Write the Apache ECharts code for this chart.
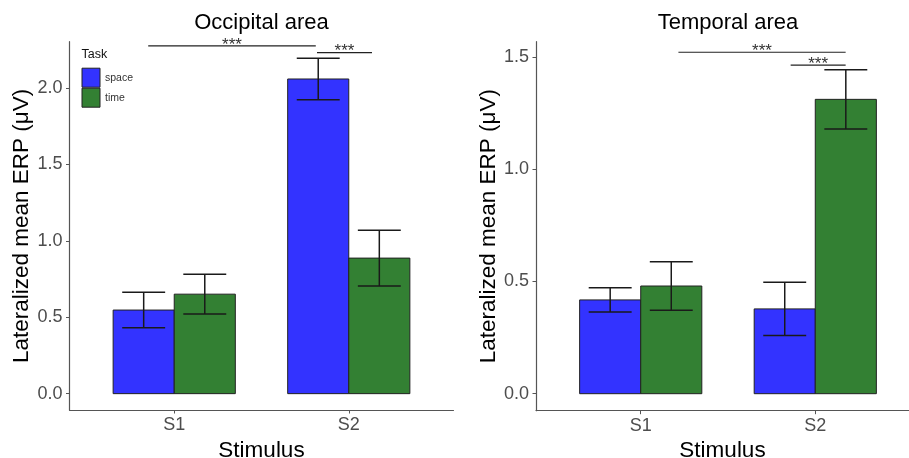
<!DOCTYPE html>
<html>
<head>
<meta charset="utf-8">
<script src="https://cdn.jsdelivr.net/npm/echarts@6/dist/echarts.min.js"></script>
<style>
  html, body { margin: 0; padding: 0; background: #fff; }
  #main { width: 909px; height: 458px; }
</style>
</head>
<body>
<div id="main"></div>
<script>
// data
const categories = ['S1', 'S2'];
const tasks = ['space', 'time'];

const occSpace = [0.547, 2.059];
const occSpaceSE = [0.116, 0.136];
const occTime = [0.651, 0.887];
const occTimeSE = [0.130, 0.183];

const tempSpace = [0.418, 0.378];
const tempSpaceSE = [0.054, 0.119];
const tempTime = [0.480, 1.312];
const tempTimeSE = [0.108, 0.132];

// significance brackets: start, end (x in category units), height
const occSigStart = [0.851, 1.818];
const occSigEnd = [1.811, 2.133];
const occSigY = [2.276, 2.231];
const tempSigStart = [1.216, 1.859];
const tempSigEnd = [2.174, 2.174];
const tempSigY = [1.522, 1.465];

const occTicks = [0, 0.5, 1.0, 1.5, 2.0];
const tempTicks = [0, 0.5, 1.0, 1.5];

const FONT = '"Liberation Sans", Arial, sans-serif';
const colors = { space: '#3333ff', time: '#338033' };
const BAR_HALF = 0.175;
const ERR_HALF = 0.123;

const chartDom = document.getElementById('main');
const myChart = echarts.init(chartDom);

function barSeries(task, means, ses, idx, dodge) {
    return {
        type: 'custom',
        name: task,
        xAxisIndex: idx,
        yAxisIndex: idx,
        itemStyle: { color: colors[task] },
        data: means.map((m, i) => [i + 1, m, ses[i]]),
        encode: { x: 0, y: 1 },
        renderItem: function (params, api) {
            const x = api.value(0) + dodge;
            const m = api.value(1);
            const se = api.value(2);
            const tl = api.coord([x - BAR_HALF, m]);
            const br = api.coord([x + BAR_HALF, 0]);
            const top = api.coord([x, m + se]);
            const bot = api.coord([x, m - se]);
            const xl = api.coord([x - ERR_HALF, 0])[0];
            const xr = api.coord([x + ERR_HALF, 0])[0];
            const ls = { stroke: '#1a1a1a', lineWidth: 1.5 };
            return {
                type: 'group',
                children: [
                    { type: 'rect', shape: { x: tl[0], y: tl[1], width: br[0] - tl[0], height: br[1] - tl[1] },
                      style: { fill: colors[task], stroke: '#222', lineWidth: 1 } },
                    { type: 'line', shape: { x1: top[0], y1: top[1], x2: bot[0], y2: bot[1] }, style: ls, z2: 5 },
                    { type: 'line', shape: { x1: xl, y1: top[1], x2: xr, y2: top[1] }, style: ls, z2: 5 },
                    { type: 'line', shape: { x1: xl, y1: bot[1], x2: xr, y2: bot[1] }, style: ls, z2: 5 }
                ]
            };
        }
    };
}

function sigSeries(starts, ends, ys, idx) {
    return {
        type: 'custom',
        xAxisIndex: idx,
        yAxisIndex: idx,
        silent: true,
        data: starts.map((s, i) => [s, ends[i], ys[i]]),
        encode: { x: [0, 1], y: 2 },
        renderItem: function (params, api) {
            const a = api.coord([api.value(0), api.value(2)]);
            const b = api.coord([api.value(1), api.value(2)]);
            return {
                type: 'group',
                children: [
                    { type: 'line', shape: { x1: a[0], y1: a[1], x2: b[0], y2: b[1] },
                      style: { stroke: '#222', lineWidth: 1.2 } },
                    { type: 'text', style: { x: (a[0] + b[0]) / 2, y: a[1] - 9.5, text: '***',
                      fill: '#333', font: '17px ' + FONT, textAlign: 'center', textVerticalAlign: 'top' } }
                ]
            };
        }
    };
}

function yAxis(idx, min, max, ticks) {
    return {
        type: 'value',
        gridIndex: idx,
        min: min,
        max: max,
        name: 'Lateralized mean ERP (μV)',
        nameLocation: 'middle',
        nameGap: 33,
        nameTextStyle: { fontFamily: FONT, fontSize: 22.5, color: '#000' },
        splitLine: { show: false },
        axisLine: { show: true, lineStyle: { color: '#555', width: 1.2 } },
        axisTick: { show: true, length: 3.5, customValues: ticks, lineStyle: { color: '#555' } },
        axisLabel: { customValues: ticks, margin: 7, fontFamily: FONT, fontSize: 18, color: '#4d4d4d',
                     formatter: v => v.toFixed(1) }
    };
}

function xAxis(idx, max) {
    return {
        type: 'value',
        gridIndex: idx,
        min: 0.4,
        max: max,
        name: 'Stimulus',
        nameLocation: 'middle',
        nameGap: 23,
        nameTextStyle: { fontFamily: FONT, fontSize: 22.5, color: '#000' },
        splitLine: { show: false },
        axisLine: { onZero: false, lineStyle: { color: '#555', width: 1.2 } },
        axisTick: { show: true, length: 3.5, customValues: [1, 2], lineStyle: { color: '#555' } },
        axisLabel: { customValues: [1, 2], margin: 6, fontFamily: FONT, fontSize: 18, color: '#4d4d4d',
                     formatter: v => categories[Math.round(v) - 1] }
    };
}

const option = {
    animation: false,
    backgroundColor: '#fff',
    textStyle: { fontFamily: FONT },
    grid: [
        { left: 69.5, right: 455.5, top: 41.7, bottom: 48, outerBoundsMode: 'none', containLabel: false },
        { left: 536, right: 0, top: 41.7, bottom: 47.3, outerBoundsMode: 'none', containLabel: false }
    ],
    xAxis: [xAxis(0, 2.6), xAxis(1, 2.537)],
    yAxis: [yAxis(0, -0.107, 2.303, occTicks), yAxis(1, -0.0758, 1.569, tempTicks)],
    legend: {
        orient: 'vertical',
        left: 76.5,
        top: 62.7,
        itemWidth: 18,
        itemHeight: 19,
        itemGap: 0,
        icon: 'rect',
        textStyle: { fontFamily: FONT, fontSize: 10.5, color: '#333' },
        data: tasks.map(t => ({ name: t, itemStyle: { borderColor: '#222', borderWidth: 1 } }))
    },
    graphic: [
        { type: 'text', left: 81.5, top: 48, style: { text: 'Task', font: '12.5px ' + FONT, fill: '#111' } },
        { type: 'text', style: { x: 261.5, y: 22.5, text: 'Occipital area', font: '22px ' + FONT,
          fill: '#000', textAlign: 'center', textVerticalAlign: 'middle' } },
        { type: 'text', style: { x: 728, y: 22.5, text: 'Temporal area', font: '22px ' + FONT,
          fill: '#000', textAlign: 'center', textVerticalAlign: 'middle' } }
    ],
    series: [
        barSeries('space', occSpace, occSpaceSE, 0, -BAR_HALF),
        barSeries('time', occTime, occTimeSE, 0, BAR_HALF),
        barSeries('space', tempSpace, tempSpaceSE, 1, -BAR_HALF),
        barSeries('time', tempTime, tempTimeSE, 1, BAR_HALF),
        sigSeries(occSigStart, occSigEnd, occSigY, 0),
        sigSeries(tempSigStart, tempSigEnd, tempSigY, 1)
    ]
};

option && myChart.setOption(option);
</script>
</body>
</html>
